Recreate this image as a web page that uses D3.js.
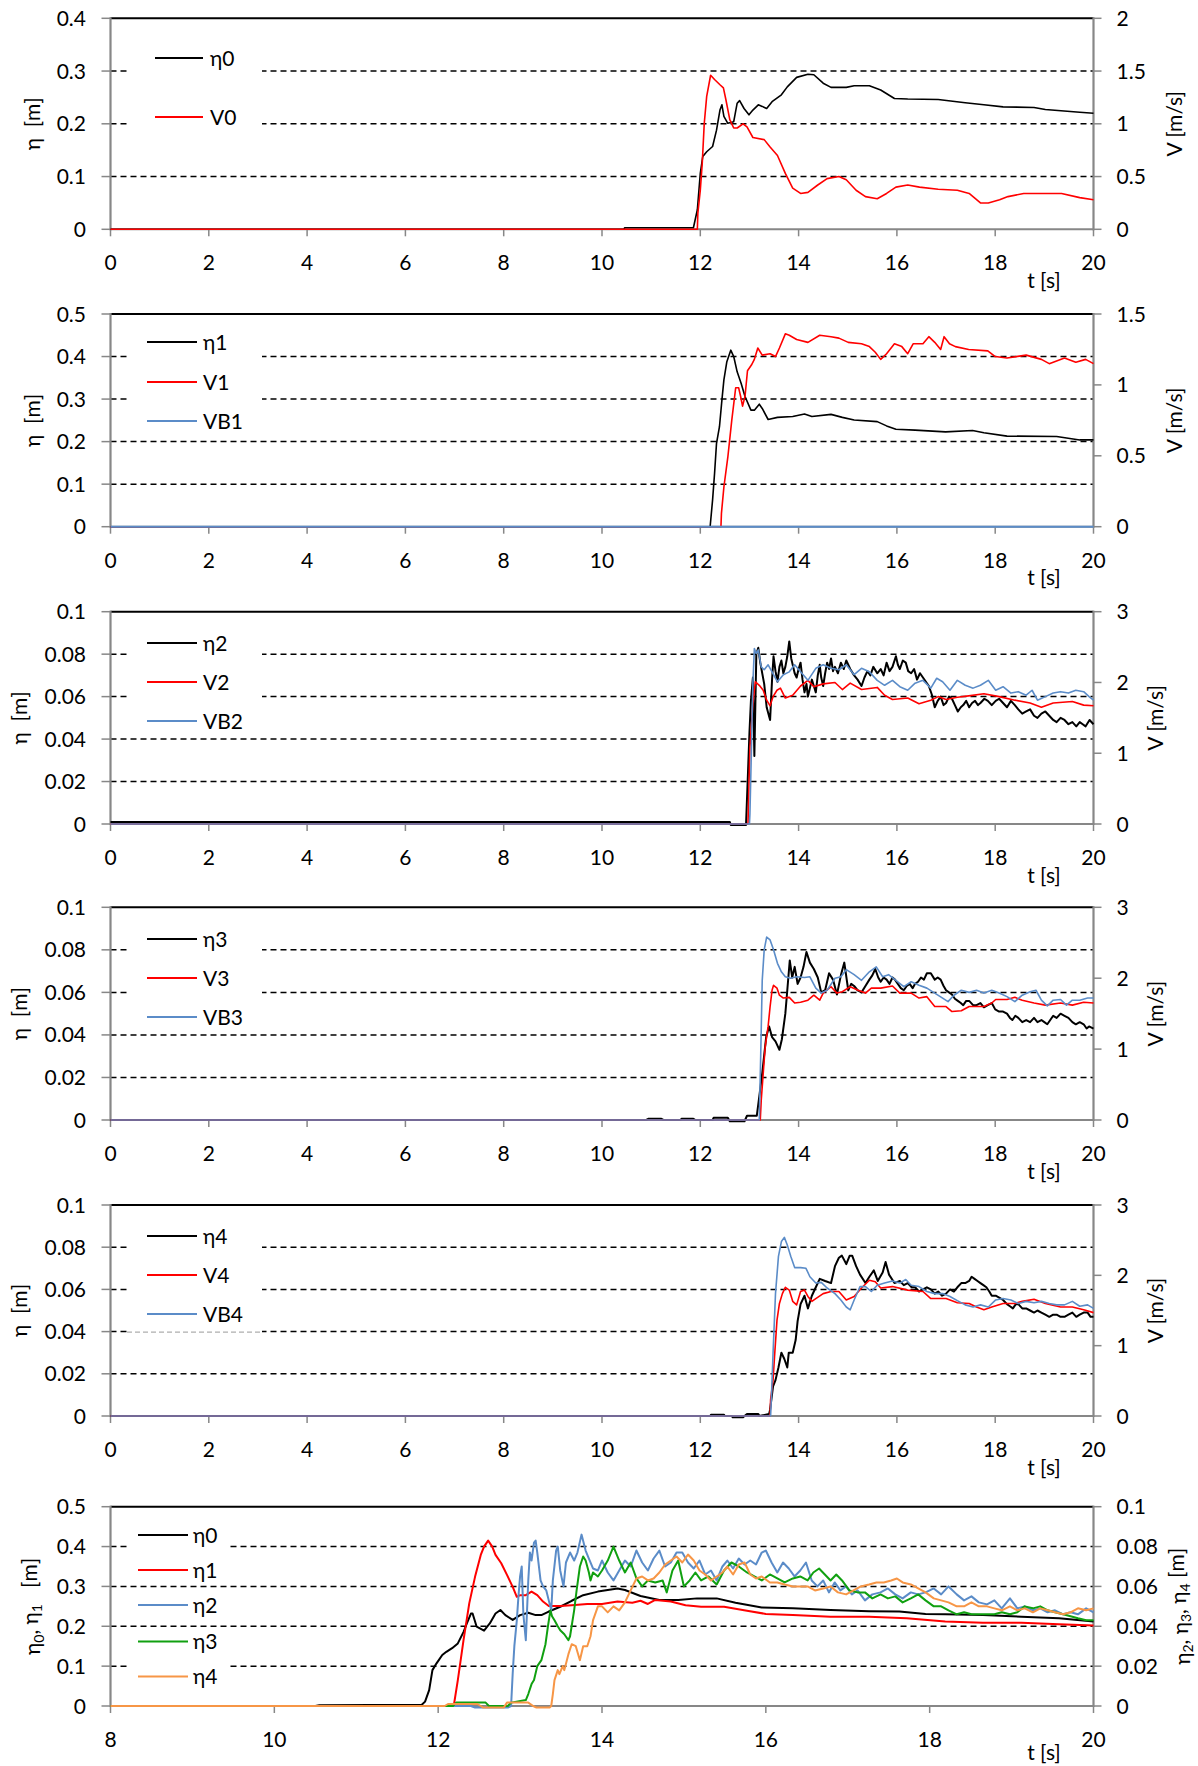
<!DOCTYPE html>
<html><head><meta charset="utf-8">
<script src="https://cdn.jsdelivr.net/npm/d3@7"></script>
<style>
body{margin:0;background:#fff}
text{font-family:Lato,"Open Sans",sans-serif;fill:#000}
</style>
</head><body>
<svg id="c" width="1198" height="1766"></svg>
<script>
// ---------- DATA ----------
const tTicks20 = [0,2,4,6,8,10,12,14,16,18,20];
const tTicks6 = [8,10,12,14,16,18,20];
const etaTicksA = [0,0.1,0.2,0.3,0.4];
const etaTicksB = [0,0.1,0.2,0.3,0.4,0.5];
const etaTicksC = [0,0.02,0.04,0.06,0.08,0.1];
const vTicks1 = [0,0.5,1,1.5,2];
const vTicks2 = [0,0.5,1,1.5];
const vTicks3 = [0,1,2,3];

const eta0 = [[0,0],[10.45,0],[10.46,0.003],[11.86,0.003],[11.94,0.037],[12.0,0.106],[12.05,0.138],[12.13,0.147],[12.25,0.157],[12.33,0.188],[12.4,0.226],[12.44,0.236],[12.48,0.214],[12.56,0.201],[12.68,0.204],[12.75,0.239],[12.8,0.244],[12.89,0.229],[12.99,0.217],[13.07,0.226],[13.18,0.236],[13.26,0.233],[13.35,0.229],[13.46,0.242],[13.65,0.255],[13.77,0.270],[13.96,0.288],[14.19,0.294],[14.31,0.293],[14.5,0.277],[14.66,0.269],[14.97,0.269],[15.13,0.272],[15.44,0.272],[15.67,0.264],[15.95,0.248],[16.22,0.247],[16.84,0.246],[17.39,0.240],[17.77,0.236],[18.16,0.232],[18.79,0.231],[19.02,0.227],[19.72,0.222],[20,0.220]];
const V0 = [[0,0],[11.94,0],[11.95,0.15],[12.0,0.37],[12.04,0.63],[12.08,1.0],[12.13,1.26],[12.21,1.46],[12.29,1.42],[12.4,1.37],[12.47,1.34],[12.52,1.23],[12.6,1.04],[12.68,0.96],[12.75,0.96],[12.87,1.0],[12.95,0.97],[13.07,0.87],[13.3,0.85],[13.42,0.78],[13.57,0.70],[13.73,0.53],[13.88,0.39],[14.04,0.34],[14.19,0.35],[14.39,0.42],[14.58,0.48],[14.82,0.50],[14.97,0.47],[15.17,0.37],[15.36,0.31],[15.6,0.29],[15.79,0.34],[15.98,0.40],[16.22,0.42],[16.46,0.40],[16.84,0.38],[17.23,0.37],[17.47,0.34],[17.7,0.25],[17.86,0.25],[18.09,0.28],[18.26,0.31],[18.58,0.34],[19.35,0.34],[19.72,0.30],[20,0.28]];

const eta1 = [[0,0],[12.2,0],[12.25,0.063],[12.29,0.125],[12.33,0.196],[12.39,0.235],[12.44,0.298],[12.48,0.345],[12.54,0.388],[12.62,0.415],[12.68,0.40],[12.75,0.364],[12.83,0.337],[12.91,0.306],[13.03,0.274],[13.1,0.274],[13.2,0.288],[13.26,0.278],[13.38,0.252],[13.57,0.257],[13.88,0.259],[14.12,0.265],[14.27,0.259],[14.66,0.264],[14.89,0.257],[15.13,0.251],[15.6,0.247],[15.79,0.237],[15.98,0.229],[16.37,0.227],[16.99,0.223],[17.54,0.226],[17.77,0.221],[18.24,0.213],[19.25,0.212],[19.72,0.204],[20,0.204]];
const V1 = [[0,0],[12.42,0],[12.43,0.094],[12.48,0.28],[12.56,0.49],[12.64,0.75],[12.72,0.98],[12.78,0.98],[12.82,0.92],[12.86,0.85],[12.91,0.92],[12.96,1.10],[13.04,1.14],[13.1,1.18],[13.17,1.26],[13.26,1.21],[13.42,1.22],[13.53,1.20],[13.61,1.26],[13.73,1.36],[13.81,1.35],[13.96,1.32],[14.19,1.30],[14.43,1.35],[14.66,1.34],[14.82,1.33],[15.01,1.30],[15.28,1.29],[15.44,1.27],[15.56,1.23],[15.67,1.18],[15.79,1.22],[15.95,1.29],[16.1,1.27],[16.22,1.22],[16.33,1.29],[16.53,1.29],[16.65,1.34],[16.77,1.30],[16.89,1.25],[16.96,1.34],[17.07,1.29],[17.19,1.27],[17.46,1.25],[17.85,1.24],[18.0,1.20],[18.24,1.19],[18.63,1.21],[18.94,1.18],[19.1,1.15],[19.41,1.19],[19.64,1.16],[19.84,1.18],[20,1.15]];
const VB1 = [[0,0],[20,0]];

const eta2 = [[0,0.001],[12.6,0.001],[12.62,-0.0005],[12.93,-0.0005],[12.97,0.024],[13.0,0.043],[13.03,0.058],[13.07,0.069],[13.1,0.032],[13.14,0.080],[13.18,0.083],[13.22,0.076],[13.3,0.066],[13.35,0.055],[13.42,0.049],[13.46,0.068],[13.49,0.079],[13.53,0.072],[13.57,0.067],[13.61,0.074],[13.65,0.077],[13.69,0.071],[13.73,0.074],[13.77,0.079],[13.81,0.086],[13.85,0.078],[13.88,0.075],[13.92,0.071],[13.96,0.069],[14.0,0.073],[14.04,0.076],[14.08,0.068],[14.12,0.062],[14.16,0.066],[14.19,0.060],[14.23,0.064],[14.27,0.068],[14.31,0.065],[14.35,0.062],[14.39,0.070],[14.43,0.075],[14.46,0.069],[14.5,0.065],[14.54,0.071],[14.58,0.076],[14.62,0.073],[14.66,0.078],[14.7,0.072],[14.74,0.074],[14.8,0.071],[14.86,0.076],[14.92,0.073],[14.97,0.077],[15.05,0.073],[15.13,0.070],[15.2,0.068],[15.28,0.065],[15.34,0.069],[15.4,0.072],[15.46,0.070],[15.52,0.074],[15.6,0.071],[15.67,0.073],[15.73,0.070],[15.79,0.076],[15.85,0.072],[15.91,0.074],[15.98,0.079],[16.02,0.075],[16.06,0.073],[16.12,0.077],[16.18,0.076],[16.23,0.072],[16.29,0.071],[16.35,0.073],[16.41,0.068],[16.47,0.071],[16.53,0.069],[16.59,0.067],[16.65,0.065],[16.71,0.061],[16.77,0.055],[16.83,0.058],[16.89,0.060],[16.95,0.056],[17.0,0.057],[17.06,0.060],[17.12,0.059],[17.18,0.056],[17.24,0.053],[17.3,0.055],[17.35,0.056],[17.41,0.058],[17.47,0.055],[17.53,0.057],[17.59,0.058],[17.65,0.056],[17.7,0.057],[17.78,0.059],[17.85,0.058],[17.93,0.056],[18.01,0.058],[18.08,0.059],[18.16,0.057],[18.24,0.055],[18.32,0.058],[18.4,0.056],[18.47,0.054],[18.55,0.052],[18.63,0.053],[18.71,0.054],[18.79,0.051],[18.86,0.050],[18.94,0.052],[19.02,0.053],[19.1,0.051],[19.18,0.049],[19.25,0.048],[19.33,0.050],[19.41,0.049],[19.49,0.047],[19.57,0.048],[19.65,0.046],[19.72,0.048],[19.78,0.047],[19.84,0.046],[19.92,0.049],[20,0.047]];
const V2 = [[0,0],[12.97,0],[12.99,0.57],[13.01,1.09],[13.07,1.70],[13.12,2.01],[13.2,1.96],[13.28,1.89],[13.35,1.75],[13.42,1.67],[13.48,1.80],[13.56,1.89],[13.63,1.92],[13.73,1.78],[13.88,1.82],[14.04,1.95],[14.19,2.03],[14.31,1.94],[14.5,1.98],[14.74,2.00],[14.89,1.90],[15.05,1.99],[15.28,1.90],[15.6,1.93],[15.75,1.82],[15.91,1.76],[16.22,1.78],[16.45,1.70],[16.69,1.75],[16.84,1.80],[17.0,1.76],[17.23,1.79],[17.46,1.81],[17.77,1.84],[18.08,1.80],[18.4,1.75],[18.71,1.71],[18.94,1.65],[19.18,1.71],[19.57,1.73],[19.8,1.68],[20,1.67]];
const VB2 = [[0,0],[13.0,0],[13.01,0.15],[13.04,1.05],[13.07,1.99],[13.1,2.48],[13.14,2.41],[13.18,2.46],[13.24,2.22],[13.3,2.18],[13.38,2.25],[13.46,2.15],[13.57,2.01],[13.69,2.11],[13.81,2.15],[13.92,2.25],[14.04,2.15],[14.19,2.03],[14.35,2.20],[14.5,2.25],[14.66,2.20],[14.82,2.18],[14.97,2.25],[15.13,2.11],[15.28,2.20],[15.44,2.15],[15.6,2.03],[15.75,1.96],[15.91,2.03],[16.06,1.94],[16.22,1.89],[16.37,1.99],[16.53,2.03],[16.69,1.92],[16.81,2.06],[16.93,2.01],[17.08,1.89],[17.23,2.03],[17.39,1.96],[17.55,1.92],[17.7,1.96],[17.86,2.03],[18.01,1.89],[18.16,1.94],[18.32,1.85],[18.47,1.87],[18.63,1.82],[18.75,1.89],[18.86,1.75],[19.02,1.80],[19.18,1.85],[19.33,1.87],[19.49,1.85],[19.64,1.89],[19.8,1.87],[19.91,1.80],[20,1.75]];

const eta3 = [[0,0],[10.9,0],[10.95,0.0006],[11.2,0.0006],[11.25,0],[11.6,0],[11.62,0.0006],[11.86,0.0006],[11.9,0],[12.25,0],[12.27,0.001],[12.56,0.001],[12.6,-0.0006],[12.9,-0.0006],[12.95,0.002],[13.15,0.002],[13.2,0.011],[13.26,0.022],[13.34,0.039],[13.4,0.044],[13.46,0.039],[13.53,0.037],[13.61,0.033],[13.66,0.038],[13.73,0.050],[13.77,0.061],[13.82,0.075],[13.87,0.067],[13.92,0.072],[13.98,0.064],[14.04,0.067],[14.1,0.072],[14.16,0.079],[14.23,0.074],[14.31,0.071],[14.39,0.067],[14.46,0.060],[14.54,0.061],[14.62,0.069],[14.7,0.066],[14.78,0.059],[14.86,0.068],[14.93,0.074],[15.01,0.061],[15.07,0.064],[15.13,0.063],[15.2,0.061],[15.28,0.060],[15.36,0.063],[15.44,0.066],[15.5,0.068],[15.56,0.071],[15.62,0.067],[15.67,0.065],[15.73,0.067],[15.79,0.066],[15.85,0.064],[15.91,0.067],[15.96,0.066],[16.02,0.064],[16.08,0.062],[16.14,0.061],[16.2,0.063],[16.26,0.064],[16.32,0.062],[16.37,0.064],[16.43,0.065],[16.49,0.067],[16.55,0.066],[16.61,0.069],[16.69,0.069],[16.77,0.066],[16.83,0.067],[16.89,0.066],[16.95,0.063],[17.0,0.061],[17.06,0.060],[17.12,0.059],[17.18,0.057],[17.24,0.056],[17.3,0.055],[17.35,0.054],[17.41,0.056],[17.47,0.056],[17.55,0.054],[17.62,0.054],[17.7,0.055],[17.77,0.053],[17.85,0.054],[17.93,0.055],[18.0,0.052],[18.08,0.051],[18.16,0.051],[18.24,0.050],[18.3,0.048],[18.35,0.047],[18.41,0.049],[18.47,0.048],[18.55,0.046],[18.63,0.047],[18.71,0.046],[18.79,0.048],[18.86,0.046],[18.94,0.047],[19.0,0.046],[19.06,0.045],[19.12,0.047],[19.18,0.049],[19.25,0.048],[19.33,0.050],[19.41,0.049],[19.49,0.048],[19.57,0.046],[19.64,0.045],[19.72,0.046],[19.8,0.045],[19.86,0.043],[19.91,0.044],[20,0.043]];
const V3 = [[0,0],[13.22,0],[13.24,0.28],[13.27,0.56],[13.32,1.03],[13.38,1.32],[13.42,1.60],[13.46,1.83],[13.49,1.90],[13.56,1.86],[13.61,1.76],[13.69,1.72],[13.81,1.73],[13.92,1.65],[14.04,1.66],[14.19,1.69],[14.31,1.76],[14.43,1.69],[14.5,1.79],[14.66,1.88],[14.78,1.79],[14.89,1.81],[15.05,1.88],[15.21,1.83],[15.36,1.79],[15.48,1.86],[15.67,1.86],[15.91,1.89],[16.06,1.79],[16.29,1.79],[16.45,1.72],[16.61,1.74],[16.77,1.60],[17.0,1.60],[17.12,1.53],[17.31,1.54],[17.47,1.60],[17.77,1.60],[17.93,1.65],[18.01,1.70],[18.24,1.70],[18.4,1.73],[18.55,1.69],[18.79,1.65],[19.02,1.62],[19.33,1.65],[19.57,1.62],[19.8,1.66],[20,1.65]];
const VB3 = [[0,0],[13.2,0],[13.23,0.94],[13.26,1.97],[13.3,2.40],[13.35,2.58],[13.42,2.54],[13.49,2.40],[13.57,2.21],[13.65,2.09],[13.73,2.02],[13.84,2.00],[13.96,2.02],[14.12,2.01],[14.23,2.02],[14.35,1.86],[14.46,1.79],[14.58,1.83],[14.74,2.00],[14.86,2.02],[14.97,2.12],[15.13,2.05],[15.28,1.97],[15.44,2.09],[15.58,2.16],[15.71,2.02],[15.83,2.05],[15.98,1.97],[16.14,1.88],[16.29,1.95],[16.45,1.90],[16.61,1.86],[16.77,1.79],[16.93,1.72],[17.04,1.67],[17.16,1.76],[17.31,1.83],[17.47,1.80],[17.62,1.83],[17.77,1.79],[17.93,1.83],[18.08,1.79],[18.24,1.74],[18.4,1.67],[18.55,1.76],[18.71,1.81],[18.83,1.83],[18.94,1.69],[19.06,1.61],[19.18,1.69],[19.33,1.70],[19.45,1.62],[19.57,1.69],[19.72,1.69],[19.88,1.72],[20,1.72]];

const eta4 = [[0,0],[12.2,0],[12.22,0.0006],[12.48,0.0006],[12.5,0],[12.64,0],[12.66,-0.0006],[12.87,-0.0006],[12.9,0],[12.95,0.001],[13.18,0.001],[13.2,0],[13.4,0.001],[13.42,0.003],[13.48,0.014],[13.53,0.017],[13.59,0.023],[13.65,0.030],[13.71,0.027],[13.77,0.023],[13.8,0.030],[13.88,0.030],[13.94,0.036],[13.98,0.045],[14.04,0.053],[14.12,0.057],[14.19,0.051],[14.27,0.057],[14.35,0.061],[14.43,0.065],[14.54,0.064],[14.66,0.063],[14.74,0.071],[14.82,0.075],[14.88,0.076],[14.97,0.072],[15.04,0.076],[15.09,0.076],[15.17,0.071],[15.25,0.067],[15.36,0.063],[15.44,0.066],[15.53,0.069],[15.61,0.064],[15.71,0.068],[15.77,0.073],[15.84,0.067],[15.95,0.063],[16.06,0.064],[16.14,0.062],[16.22,0.063],[16.3,0.061],[16.37,0.061],[16.45,0.059],[16.53,0.060],[16.61,0.061],[16.69,0.060],[16.77,0.058],[16.84,0.059],[16.92,0.057],[17.0,0.058],[17.08,0.060],[17.16,0.059],[17.23,0.061],[17.31,0.063],[17.39,0.063],[17.47,0.064],[17.52,0.066],[17.58,0.065],[17.64,0.064],[17.7,0.063],[17.76,0.062],[17.82,0.061],[17.88,0.059],[17.93,0.057],[18.01,0.057],[18.09,0.056],[18.16,0.055],[18.24,0.053],[18.3,0.052],[18.36,0.051],[18.42,0.053],[18.47,0.053],[18.55,0.051],[18.63,0.051],[18.71,0.050],[18.79,0.049],[18.86,0.050],[18.94,0.049],[19.02,0.048],[19.1,0.047],[19.18,0.048],[19.25,0.048],[19.33,0.047],[19.41,0.047],[19.49,0.048],[19.57,0.049],[19.65,0.047],[19.72,0.048],[19.8,0.049],[19.88,0.049],[19.94,0.047],[20,0.047]];
const V4 = [[0,0],[13.42,0],[13.43,0.23],[13.48,0.51],[13.51,0.84],[13.56,1.36],[13.61,1.60],[13.67,1.74],[13.73,1.83],[13.81,1.79],[13.88,1.63],[13.96,1.58],[14.04,1.77],[14.12,1.79],[14.19,1.70],[14.27,1.63],[14.35,1.67],[14.5,1.74],[14.66,1.77],[14.82,1.77],[14.97,1.65],[15.13,1.70],[15.28,1.82],[15.44,1.93],[15.56,1.91],[15.67,1.82],[15.91,1.84],[16.22,1.79],[16.53,1.77],[16.69,1.67],[17.0,1.67],[17.23,1.61],[17.47,1.60],[17.62,1.55],[17.77,1.51],[17.93,1.55],[18.16,1.60],[18.4,1.60],[18.55,1.63],[18.79,1.66],[19.02,1.60],[19.33,1.55],[19.57,1.55],[19.8,1.51],[20,1.47]];
const VB4 = [[0,0],[13.43,0],[13.45,0.32],[13.48,0.89],[13.53,1.74],[13.59,2.27],[13.65,2.48],[13.71,2.54],[13.77,2.43],[13.84,2.27],[13.92,2.11],[14.04,2.11],[14.15,2.10],[14.23,1.98],[14.35,1.89],[14.46,1.90],[14.58,1.82],[14.74,1.74],[14.86,1.65],[14.97,1.55],[15.05,1.51],[15.13,1.65],[15.25,1.84],[15.36,1.84],[15.48,1.77],[15.6,1.86],[15.75,1.89],[15.91,1.92],[16.06,1.89],[16.18,1.94],[16.29,1.86],[16.45,1.84],[16.61,1.77],[16.77,1.74],[16.93,1.74],[17.08,1.70],[17.23,1.64],[17.39,1.58],[17.55,1.55],[17.7,1.58],[17.86,1.55],[18.01,1.65],[18.16,1.67],[18.32,1.65],[18.47,1.60],[18.63,1.63],[18.79,1.61],[18.94,1.63],[19.1,1.60],[19.25,1.58],[19.41,1.58],[19.57,1.63],[19.72,1.56],[19.88,1.58],[20,1.53]];

// bottom panel (t = 8..20)
const c_eta0 = [[8,0],[10.5,0],[10.55,0.002],[11.8,0.003],[11.84,0.011],[11.89,0.040],[11.93,0.090],[11.98,0.107],[12.05,0.128],[12.1,0.136],[12.17,0.145],[12.24,0.157],[12.31,0.186],[12.35,0.207],[12.4,0.232],[12.42,0.232],[12.47,0.199],[12.56,0.189],[12.63,0.207],[12.7,0.232],[12.76,0.241],[12.82,0.228],[12.91,0.216],[13.0,0.228],[13.1,0.234],[13.19,0.228],[13.26,0.228],[13.35,0.237],[13.49,0.249],[13.63,0.264],[13.77,0.278],[13.95,0.287],[14.19,0.295],[14.28,0.291],[14.47,0.276],[14.7,0.266],[14.93,0.266],[15.16,0.270],[15.4,0.270],[15.63,0.259],[15.95,0.247],[16.33,0.245],[16.79,0.241],[17.26,0.238],[17.63,0.237],[17.95,0.231],[18.19,0.230],[18.65,0.228],[19.12,0.224],[19.58,0.220],[20,0.212]];
const c_eta1 = [[8,0],[12.19,0],[12.24,0.065],[12.31,0.166],[12.38,0.258],[12.45,0.324],[12.52,0.379],[12.56,0.400],[12.61,0.415],[12.66,0.400],[12.7,0.379],[12.77,0.358],[12.84,0.329],[12.91,0.299],[12.96,0.274],[13.0,0.278],[13.07,0.278],[13.14,0.287],[13.21,0.278],[13.28,0.262],[13.35,0.251],[13.49,0.251],[13.63,0.253],[13.82,0.256],[14.0,0.256],[14.19,0.262],[14.37,0.259],[14.47,0.264],[14.56,0.256],[14.65,0.266],[14.84,0.262],[15.02,0.253],[15.21,0.249],[15.49,0.249],[15.77,0.239],[16.0,0.231],[16.33,0.228],[16.79,0.224],[17.26,0.224],[17.72,0.220],[18.19,0.212],[18.65,0.209],[19.12,0.209],[19.58,0.205],[20,0.202]];
const c_eta2 = [[8,0],[12.4,0],[12.45,-0.0008],[12.85,-0.0008],[12.89,0],[12.91,0.0164],[12.93,0.030],[12.96,0.043],[12.98,0.055],[13.0,0.065],[13.02,0.070],[13.04,0.046],[13.07,0.033],[13.1,0.063],[13.12,0.077],[13.14,0.073],[13.17,0.082],[13.19,0.083],[13.21,0.077],[13.25,0.063],[13.28,0.060],[13.32,0.058],[13.35,0.053],[13.38,0.048],[13.4,0.063],[13.44,0.078],[13.46,0.080],[13.49,0.068],[13.53,0.060],[13.56,0.072],[13.61,0.077],[13.66,0.073],[13.7,0.077],[13.75,0.086],[13.8,0.078],[13.84,0.074],[13.89,0.069],[13.95,0.068],[14.0,0.073],[14.07,0.067],[14.14,0.063],[14.21,0.068],[14.28,0.073],[14.35,0.070],[14.42,0.078],[14.49,0.072],[14.56,0.068],[14.63,0.074],[14.7,0.078],[14.77,0.070],[14.84,0.072],[14.91,0.077],[14.98,0.077],[15.05,0.072],[15.12,0.069],[15.19,0.073],[15.26,0.066],[15.33,0.068],[15.4,0.063],[15.47,0.070],[15.53,0.073],[15.6,0.069],[15.67,0.074],[15.74,0.071],[15.81,0.073],[15.88,0.071],[15.95,0.077],[16.0,0.078],[16.07,0.072],[16.14,0.067],[16.21,0.072],[16.28,0.069],[16.35,0.065],[16.42,0.068],[16.49,0.072],[16.56,0.063],[16.63,0.060],[16.7,0.063],[16.77,0.057],[16.84,0.062],[16.91,0.058],[16.98,0.060],[17.05,0.056],[17.12,0.058],[17.21,0.053],[17.3,0.056],[17.4,0.057],[17.49,0.059],[17.58,0.056],[17.67,0.054],[17.77,0.057],[17.86,0.056],[17.95,0.057],[18.05,0.059],[18.14,0.056],[18.23,0.060],[18.33,0.056],[18.42,0.053],[18.51,0.055],[18.6,0.052],[18.7,0.051],[18.79,0.053],[18.88,0.049],[18.98,0.054],[19.07,0.049],[19.16,0.050],[19.26,0.048],[19.35,0.049],[19.44,0.047],[19.53,0.048],[19.63,0.046],[19.72,0.047],[19.81,0.046],[19.91,0.049],[20,0.047]];
const c_eta3 = [[8,0],[12.18,0],[12.22,0.0017],[12.58,0.0017],[12.62,0],[12.85,0],[12.89,0.0017],[13.07,0.003],[13.1,0.006],[13.14,0.011],[13.17,0.013],[13.21,0.020],[13.26,0.023],[13.31,0.031],[13.34,0.040],[13.37,0.048],[13.39,0.045],[13.42,0.043],[13.46,0.040],[13.49,0.038],[13.54,0.036],[13.59,0.033],[13.61,0.035],[13.66,0.048],[13.69,0.058],[13.73,0.070],[13.77,0.075],[13.8,0.073],[13.84,0.067],[13.86,0.063],[13.89,0.067],[13.95,0.065],[14.0,0.068],[14.07,0.073],[14.14,0.080],[14.21,0.073],[14.28,0.067],[14.35,0.072],[14.42,0.064],[14.49,0.060],[14.56,0.063],[14.65,0.062],[14.74,0.063],[14.79,0.057],[14.86,0.068],[14.93,0.073],[15.0,0.060],[15.07,0.063],[15.14,0.067],[15.21,0.063],[15.3,0.065],[15.4,0.061],[15.49,0.068],[15.58,0.072],[15.67,0.070],[15.77,0.067],[15.86,0.065],[15.95,0.063],[16.05,0.066],[16.14,0.064],[16.23,0.062],[16.33,0.064],[16.42,0.065],[16.51,0.063],[16.58,0.067],[16.65,0.069],[16.72,0.066],[16.79,0.063],[16.86,0.066],[16.93,0.063],[17.02,0.058],[17.12,0.057],[17.21,0.057],[17.3,0.054],[17.4,0.056],[17.49,0.054],[17.58,0.055],[17.67,0.052],[17.77,0.054],[17.86,0.056],[17.95,0.053],[18.05,0.050],[18.14,0.050],[18.23,0.048],[18.33,0.046],[18.42,0.047],[18.51,0.046],[18.6,0.046],[18.7,0.046],[18.79,0.046],[18.88,0.047],[18.98,0.046],[19.07,0.047],[19.16,0.050],[19.26,0.049],[19.35,0.050],[19.44,0.048],[19.53,0.047],[19.63,0.046],[19.72,0.045],[19.81,0.044],[19.91,0.043],[20,0.043]];
const c_eta4 = [[8,0],[12.08,0],[12.12,0.001],[12.48,0.001],[12.52,0],[12.55,-0.0008],[12.8,-0.0008],[12.84,0.0017],[13.1,0.0017],[13.16,0],[13.2,-0.0008],[13.36,-0.0008],[13.38,0],[13.4,0.006],[13.42,0.013],[13.46,0.018],[13.48,0.016],[13.52,0.020],[13.54,0.018],[13.59,0.026],[13.63,0.031],[13.68,0.030],[13.73,0.023],[13.77,0.030],[13.82,0.030],[13.86,0.035],[13.89,0.043],[13.95,0.050],[14.0,0.050],[14.07,0.047],[14.14,0.050],[14.21,0.048],[14.28,0.052],[14.35,0.058],[14.42,0.064],[14.49,0.065],[14.56,0.063],[14.63,0.064],[14.7,0.067],[14.77,0.071],[14.84,0.073],[14.91,0.075],[14.98,0.072],[15.05,0.076],[15.12,0.073],[15.19,0.068],[15.26,0.066],[15.33,0.063],[15.4,0.065],[15.47,0.067],[15.53,0.070],[15.6,0.066],[15.67,0.071],[15.74,0.072],[15.81,0.066],[15.88,0.064],[15.95,0.065],[16.05,0.062],[16.14,0.062],[16.23,0.061],[16.33,0.060],[16.42,0.060],[16.51,0.060],[16.6,0.058],[16.7,0.059],[16.79,0.060],[16.88,0.057],[16.98,0.056],[17.07,0.058],[17.16,0.060],[17.26,0.061],[17.35,0.062],[17.44,0.062],[17.53,0.063],[17.6,0.064],[17.67,0.062],[17.77,0.061],[17.86,0.059],[17.95,0.057],[18.05,0.054],[18.14,0.053],[18.23,0.052],[18.33,0.050],[18.42,0.050],[18.51,0.052],[18.6,0.050],[18.7,0.050],[18.79,0.049],[18.88,0.048],[18.98,0.050],[19.07,0.048],[19.16,0.049],[19.26,0.047],[19.35,0.049],[19.44,0.048],[19.53,0.047],[19.63,0.046],[19.72,0.047],[19.81,0.049],[19.91,0.048],[20,0.049]];

// ---------- LAYOUT / STYLE ----------
const BLACK="#000000", RED="#ff0000", BLUE="#5b8cc8", GREEN="#10a010", ORANGE="#f79646";
const xL=110.5, xR=1093.5;
const panels = [
  {top:18.3,bot:229.3,xd:[0,20],xt:tTicks20,yl:[0,0.4],ylt:etaTicksA,yr:[0,2],yrt:vTicks1,
   lt:"η  [m]",ltx:32.5,rt:"V [m/s]",rtx:1174,tsy:51,
   series:[{d:eta0,ax:"L",c:BLACK,w:1.6,n:"η0"},{d:V0,ax:"R",c:RED,w:1.6,n:"V0"}],
   leg:{x1:155,x2:203,lx:210,ys:[58,117],bx:[127,262],hide:[0.3,0.2]}},
  {top:314,bot:526.7,xd:[0,20],xt:tTicks20,yl:[0,0.5],ylt:etaTicksB,yr:[0,1.5],yrt:vTicks2,
   lt:"η  [m]",ltx:32.5,rt:"V [m/s]",rtx:1174,tsy:51,
   series:[{d:eta1,ax:"L",c:BLACK,w:1.6,n:"η1"},{d:V1,ax:"R",c:RED,w:1.6,n:"V1"},{d:VB1,ax:"R",c:BLUE,w:2,n:"VB1"}],
   leg:{x1:147,x2:197,lx:203,ys:[342,382,421],bx:[127,262],hide:[0.4,0.3]}},
  {top:611.7,bot:824,xd:[0,20],xt:tTicks20,yl:[0,0.1],ylt:etaTicksC,yr:[0,3],yrt:vTicks3,
   lt:"η  [m]",ltx:19,rt:"V [m/s]",rtx:1155,tsy:51,
   series:[{d:eta2,ax:"L",c:BLACK,w:2,n:"η2"},{d:V2,ax:"R",c:RED,w:1.6,n:"V2"},{d:VB2,ax:"R",c:BLUE,w:1.6,n:"VB2"}],
   leg:{x1:147,x2:197,lx:203,ys:[643,682,721],bx:[127,262],hide:[0.08,0.06]}},
  {top:907.3,bot:1120,xd:[0,20],xt:tTicks20,yl:[0,0.1],ylt:etaTicksC,yr:[0,3],yrt:vTicks3,
   lt:"η  [m]",ltx:19,rt:"V [m/s]",rtx:1155,tsy:51,
   series:[{d:eta3,ax:"L",c:BLACK,w:2,n:"η3"},{d:V3,ax:"R",c:RED,w:1.6,n:"V3"},{d:VB3,ax:"R",c:BLUE,w:1.6,n:"VB3"}],
   leg:{x1:147,x2:197,lx:203,ys:[939,978,1017],bx:[127,262],hide:[0.08,0.06]}},
  {top:1205,bot:1416,xd:[0,20],xt:tTicks20,yl:[0,0.1],ylt:etaTicksC,yr:[0,3],yrt:vTicks3,
   lt:"η  [m]",ltx:19,rt:"V [m/s]",rtx:1155,tsy:51,
   series:[{d:eta4,ax:"L",c:BLACK,w:2,n:"η4"},{d:V4,ax:"R",c:RED,w:1.6,n:"V4"},{d:VB4,ax:"R",c:BLUE,w:1.6,n:"VB4"}],
   leg:{x1:147,x2:197,lx:203,ys:[1236,1275,1314],bx:[127,262],hide:[0.08,0.06,0.04],faint:[0.04]}},
  {top:1506.7,bot:1706,xd:[8,20],xt:tTicks6,yl:[0,0.5],ylt:etaTicksB,yr:[0,0.1],yrt:etaTicksC,
   lt:null,ltx:32.5,rt:null,rtx:1182,tsy:46,
   series:[{d:c_eta0,ax:"L",c:BLACK,w:2,n:"η0"},{d:c_eta1,ax:"L",c:RED,w:2,n:"η1"},{d:c_eta2,ax:"R",c:BLUE,w:2,n:"η2"},{d:c_eta3,ax:"R",c:GREEN,w:2,n:"η3"},{d:c_eta4,ax:"R",c:ORANGE,w:2,n:"η4"}],
   leg:{x1:138,x2:188,lx:193,ys:[1535,1570,1605,1641.5,1676.5],bx:[127,229],hide:[0.4,0.1]}}
];

const svg = d3.select("#c");
const FS = 21;
const fmt = v => String(+v.toFixed(3));

panels.forEach((p,pi)=>{
  const x = d3.scaleLinear().domain(p.xd).range([xL,xR]);
  const yl = d3.scaleLinear().domain(p.yl).range([p.bot,p.top]);
  const yr = d3.scaleLinear().domain(p.yr).range([p.bot,p.top]);
  const g = svg.append("g");

  // gridlines
  p.ylt.forEach(v=>{
    if(v===0) return;
    const top = Math.abs(v-p.yl[1])<1e-9;
    g.append("line").attr("x1",xL).attr("x2",xR).attr("y1",yl(v)).attr("y2",yl(v))
     .attr("stroke","#000").attr("stroke-width",top?2:1.5)
     .attr("stroke-dasharray",top?null:"6,4");
  });
  // legend background patches over gridlines
  p.leg.hide.forEach(v=>{
    g.append("rect").attr("x",p.leg.bx[0]).attr("width",p.leg.bx[1]-p.leg.bx[0])
     .attr("y",yl(v)-2.5).attr("height",5).attr("fill","#fff");
  });
  (p.leg.faint||[]).forEach(v=>{
    g.append("line").attr("x1",p.leg.bx[0]).attr("x2",p.leg.bx[1]).attr("y1",yl(v)+0.5).attr("y2",yl(v)+0.5)
     .attr("stroke","#999").attr("stroke-width",1).attr("stroke-dasharray","5,3");
  });

  // axes lines
  const AX="#878787";
  g.append("line").attr("x1",xL).attr("x2",xR).attr("y1",p.bot).attr("y2",p.bot).attr("stroke",AX).attr("stroke-width",2);
  g.append("line").attr("x1",xL).attr("x2",xL).attr("y1",p.top-1).attr("y2",p.bot+1).attr("stroke",AX).attr("stroke-width",2.2);
  g.append("line").attr("x1",xR).attr("x2",xR).attr("y1",p.top-1).attr("y2",p.bot+1).attr("stroke",AX).attr("stroke-width",2.2);

  // ticks + labels
  p.ylt.forEach(v=>{
    g.append("line").attr("x1",xL-9).attr("x2",xL).attr("y1",yl(v)).attr("y2",yl(v)).attr("stroke",AX).attr("stroke-width",1.5);
    g.append("text").attr("x",86).attr("y",yl(v)).attr("dy","0.36em").attr("text-anchor","end").attr("font-size",FS).text(fmt(v));
  });
  p.yrt.forEach(v=>{
    g.append("line").attr("x1",xR).attr("x2",xR+8).attr("y1",yr(v)).attr("y2",yr(v)).attr("stroke",AX).attr("stroke-width",1.5);
    g.append("text").attr("x",1116.5).attr("y",yr(v)).attr("dy","0.36em").attr("text-anchor","start").attr("font-size",FS).text(fmt(v));
  });
  p.xt.forEach(v=>{
    g.append("line").attr("x1",x(v)).attr("x2",x(v)).attr("y1",p.bot).attr("y2",p.bot+7).attr("stroke",AX).attr("stroke-width",1.5);
    g.append("text").attr("x",x(v)).attr("y",p.bot+33.5).attr("dy","0.36em").attr("text-anchor","middle").attr("font-size",FS).text(fmt(v));
  });
  g.append("text").attr("x",1044).attr("y",p.bot+p.tsy).attr("dy","0.36em").attr("text-anchor","middle").attr("font-size",FS).text("t [s]");

  // axis titles
  const cy=(p.top+p.bot)/2;
  if(p.lt){
    g.append("text").attr("transform",`translate(${p.ltx},${cy}) rotate(-90)`).attr("dy","0.36em")
     .attr("text-anchor","middle").attr("font-size",FS).style("white-space","pre").text(p.lt);
  } else {
    const t=g.append("text").attr("transform",`translate(${p.ltx},${cy}) rotate(-90)`).attr("dy","0.36em")
     .attr("text-anchor","middle").attr("font-size",FS).style("white-space","pre");
    t.append("tspan").text("η");
    t.append("tspan").attr("font-size",14).attr("dy","0.25em").text("0");
    t.append("tspan").attr("dy","-0.25em").text(", η");
    t.append("tspan").attr("font-size",14).attr("dy","0.25em").text("1");
    t.append("tspan").attr("dy","-0.25em").text("   [m]");
  }
  if(p.rt){
    g.append("text").attr("transform",`translate(${p.rtx},${cy}) rotate(-90)`).attr("dy","0.36em")
     .attr("text-anchor","middle").attr("font-size",FS).text(p.rt);
  } else {
    const t=g.append("text").attr("transform",`translate(${p.rtx},${cy}) rotate(-90)`).attr("dy","0.36em")
     .attr("text-anchor","middle").attr("font-size",FS).style("white-space","pre");
    t.append("tspan").text("η");
    t.append("tspan").attr("font-size",14).attr("dy","0.25em").text("2");
    t.append("tspan").attr("dy","-0.25em").text(", η");
    t.append("tspan").attr("font-size",14).attr("dy","0.25em").text("3");
    t.append("tspan").attr("dy","-0.25em").text(", η");
    t.append("tspan").attr("font-size",14).attr("dy","0.25em").text("4");
    t.append("tspan").attr("dy","-0.25em").text(" [m]");
  }

  // series
  p.series.forEach(s=>{
    const ys = s.ax==="L"?yl:yr;
    const line = d3.line().x(d=>x(d[0])).y(d=>ys(d[1]));
    g.append("path").datum(s.d).attr("d",line).attr("fill","none").attr("stroke",s.c)
     .attr("stroke-width",s.w).attr("stroke-linejoin","round");
  });

  // legend
  p.series.forEach((s,i)=>{
    const yy=p.leg.ys[i];
    g.append("line").attr("x1",p.leg.x1).attr("x2",p.leg.x2).attr("y1",yy).attr("y2",yy).attr("stroke",s.c).attr("stroke-width",2);
    g.append("text").attr("x",p.leg.lx).attr("y",yy).attr("dy","0.36em").attr("font-size",FS).text(s.n);
  });
});
</script>
</body></html>
